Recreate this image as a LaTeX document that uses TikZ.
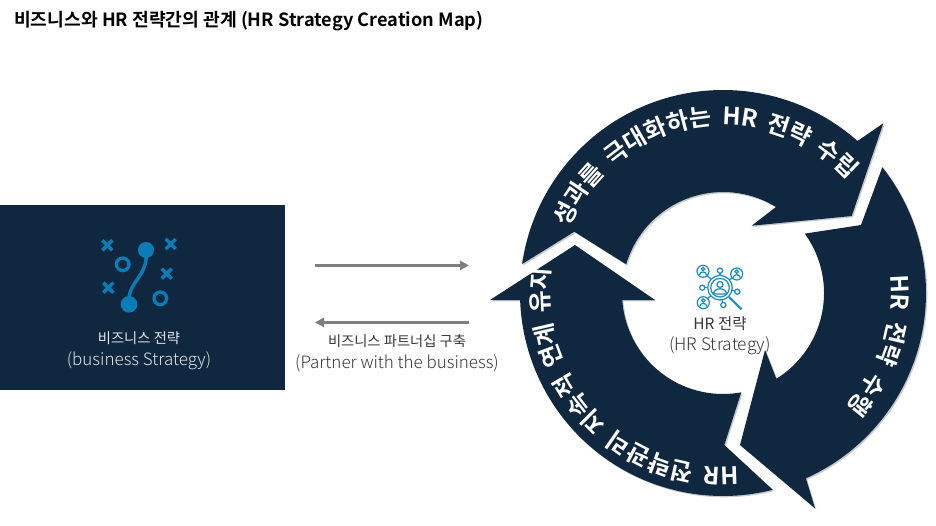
\documentclass[tikz,border=0pt]{standalone}
\usepackage{fontspec}
\usetikzlibrary{decorations.text,arrows.meta}
\setmainfont{Noto Sans CJK KR Light}
\newfontfamily\krb{Noto Sans CJK KR Bold}
\newfontfamily\krr{Noto Sans CJK KR}
\definecolor{navy}{HTML}{10283F}
\definecolor{edge}{HTML}{C5CACF}
\definecolor{iconblue}{HTML}{0A7DB8}
\definecolor{hrblue}{HTML}{1E8FC0}
\definecolor{txt}{HTML}{383838}
\definecolor{arrowgray}{HTML}{7F7F7F}
\tikzset{
  x=1pt,y=1pt,
  swirl/.style={fill=navy,draw=none},
  shade/.style={fill=edge,draw=none},
  conn/.style={draw=arrowgray,line width=2.6pt,-{Triangle[length=9pt,width=9pt]}},
  lbl/.style={text=txt,inner sep=0pt,anchor=center},
  lblw/.style={text=white!88!navy,inner sep=0pt,anchor=center},
  sko/.style={font=\krr\fontsize{14.3}{18}\selectfont},
  sen/.style={font=\fontsize{17}{18}\selectfont},
  ttl/.style={font=\krb\fontsize{18.2}{20}\selectfont,text=black,inner sep=0pt,anchor=west},
  xmark/.style={draw=iconblue,line width=3.4pt},
  ring/.style={draw=iconblue,line width=3.3pt},
  hricon/.style={draw=hrblue,line width=1.25pt,fill=none},
  ontrack/.style={decorate,decoration={text along path,text align={fit to path stretching spaces},text={|\krb\fontsize{24}{26}\selectfont\color{white}|#1}}},
}
\newcommand{\arrowone}{(171.8:203) -- (-148.7,61.3) -- (163.5:101) arc[start angle=163.5,end angle=58.4,radius=101] -- (28.7,67.3) -- (128.7,77) -- (160.3,169.7) -- (48.5:203) arc[start angle=48.5,end angle=171.8,radius=203] -- cycle}
\newcommand{\arrowtwo}{(38.3:203) -- (138,68) -- (36:101) arc[start angle=36,end angle=-58.1,radius=101] -- (42,-57) -- (17,-152) -- (92,-215.3) -- (-65.9:203) arc[start angle=-65.9,end angle=38.3,radius=203] -- cycle}
\newcommand{\arrowthree}{(-75.8:203) -- (1.3,-152) -- (-79.6:101) arc[start angle=-79.6,end angle=-176,radius=101] -- (-68,-7) -- (-148,48) -- (-233,-7) -- (-178:203) arc[start angle=-178,end angle=-75.8,radius=203] -- cycle}
\newcommand{\xm}[2]{\draw[xmark] (#1-5,#2-5) -- (#1+5,#2+5) (#1-5,#2+5) -- (#1+5,#2-5);}
\begin{document}
\begin{tikzpicture}
\useasboundingbox (0,0) rectangle (936,-526);
\fill[white] (0,0) rectangle (936,-526);
\node[ttl] (title) at (14,-21) {비즈니스와 HR 전략간의 관계 (HR Strategy Creation Map)};
% left panel
\fill[navy] (0,-205) rectangle (285,-390);
\draw[iconblue,line width=3.4pt] (146,-250) .. controls (149,-278) and (127,-280) .. (129,-304);
\fill[iconblue] (146,-250) circle (8);
\fill[iconblue] (129,-304.3) circle (8.3);
\draw[ring] (122.7,-264.3) circle (6.3);
\draw[ring] (160.3,-298.3) circle (6.3);
\xm{107.3}{-245.3}
\xm{170.7}{-244}
\xm{166.7}{-273.7}
\xm{108.3}{-287.7}
\node[lblw,sko] (bizko) at (139,-338) {비즈니스 전략};
\node[lblw,sen] (bizen) at (139,-360.5) {(business Strategy)};
% connectors
\coordinate (ra) at (315,-265.4);
\coordinate (rb) at (469,-265.4);
\coordinate (la) at (469,-322.4);
\coordinate (lb) at (315,-322.4);
\draw[conn] (ra) -- (rb);
\draw[conn] (la) -- (lb);
\node[lbl,sko] (partko) at (397,-341.5) {비즈니스 파트너십 구축};
\node[lbl,sen] (parten) at (397,-363) {(Partner with the business)};
% centre
\node[lbl,font=\krr\fontsize{15.5}{18}\selectfont] (hrko) at (720,-324) {HR 전략};
\node[lbl,font=\fontsize{17.3}{18}\selectfont] (hren) at (720,-346) {(HR Strategy)};
\begin{scope}[hricon]
\draw (720,-287.7) circle (12.3);
\draw (720,-287.7) circle (9.3);
\draw (720,-284.5) circle (3);
\draw (713.5,-294) .. controls (713.5,-287) and (726.5,-287) .. (726.5,-294) -- cycle;
\draw[line width=2.2pt] (729,-297) -- (741.5,-309.3);
\draw (703,-271.3) circle (6);
\draw (736.7,-274) circle (6);
\draw (703.3,-302.7) circle (6);
\draw (720,-270.7) circle (2.6);
\draw (702.3,-287.7) circle (2.6);
\draw (737.3,-291.7) circle (2.6);
\draw (723.3,-305) circle (2.6);
\draw (707.3,-275.6) -- (711,-279);
\draw (732.4,-278) -- (729,-280);
\draw (707.5,-298.5) -- (711,-295.5);
\draw (720,-273.3) -- (720,-275.4);
\draw (704.9,-287.7) -- (707.7,-287.7);
\draw (734.7,-291) -- (732,-290);
\draw (722.6,-302.4) -- (722,-300);
\draw (703,-269) circle (1.7);
\draw (736.7,-271.7) circle (1.7);
\draw (703.3,-300.4) circle (1.7);
\draw (699.5,-275) .. controls (699.5,-271) and (706.5,-271) .. (706.5,-275);
\draw (733.2,-277.7) .. controls (733.2,-273.7) and (740.2,-273.7) .. (740.2,-277.7);
\draw (699.8,-306.4) .. controls (699.8,-302.4) and (706.8,-302.4) .. (706.8,-306.4);
\end{scope}
% swirl
\begin{scope}[shift={(723,-293)}]
\fill[shade,shift={(1.3,-1.3)}] \arrowone;
\fill[shade,shift={(1.3,-1.3)}] \arrowtwo;
\fill[shade,shift={(1.3,-1.3)}] \arrowthree;
\fill[swirl] \arrowone;
\fill[swirl] \arrowtwo;
\fill[swirl] \arrowthree;
\path[ontrack={성과를 극대화하는 HR 전략 수립}]
  (157:168) arc[start angle=157,end angle=42,radius=168];
\path[ontrack={HR 전략 수행}]
  (6:168) arc[start angle=6,end angle=-43,radius=168];
\path[ontrack={HR 전략관리 지속적 연계 유지}]
  (-85:174) arc[start angle=-85,end angle=-188,radius=174];
\end{scope}
\end{tikzpicture}
\end{document}
